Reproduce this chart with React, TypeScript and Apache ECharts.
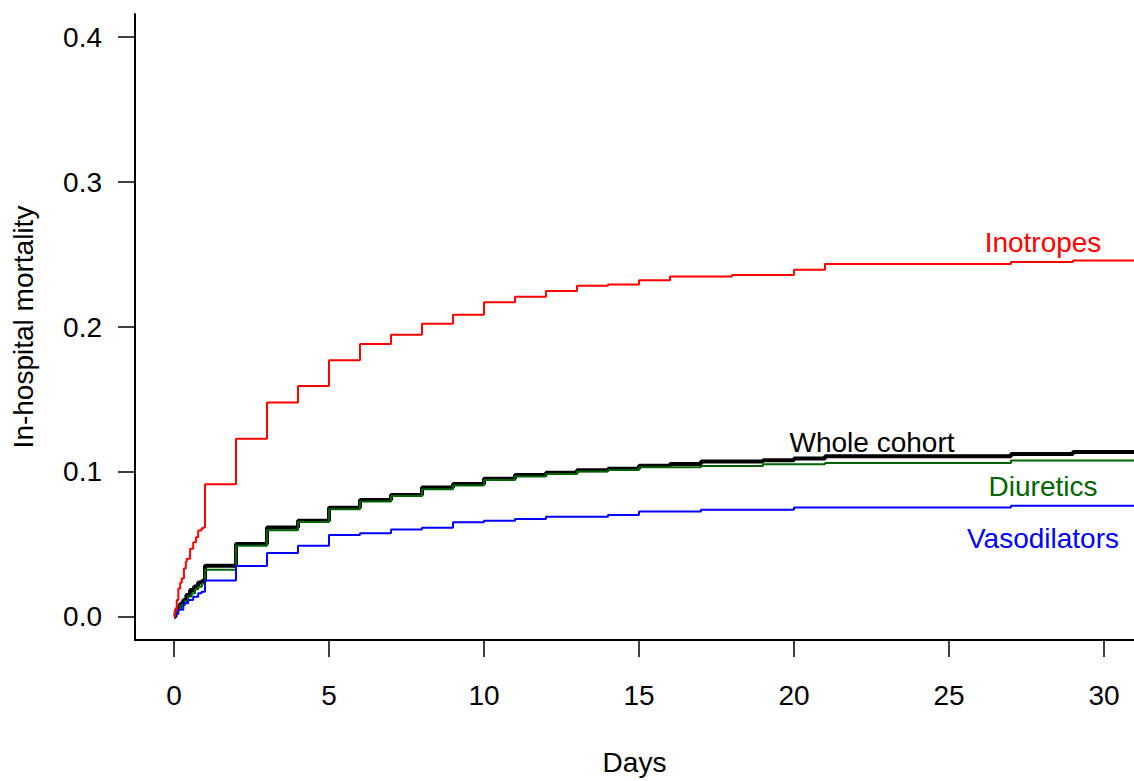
import React, { useEffect, useRef } from "react";
import * as echarts from "echarts";

// Tick values
const xTicks = [0, 5, 10, 15, 20, 25, 30];
const yTicks = [0, 0.1, 0.2, 0.3, 0.4];

// Series: [day, cumulative in-hospital mortality] (step functions)
const wholeCohort: [number, number][] = [
  [0, 0], [0.05, 0.003], [0.1, 0.006], [0.2, 0.009], [0.3, 0.0116], [0.4, 0.015],
  [0.52, 0.0185], [0.65, 0.021], [0.78, 0.0237], [0.9, 0.0248],
  [1, 0.0353], [2, 0.0502], [3, 0.0616], [4, 0.0663], [5, 0.0753], [6, 0.0806],
  [7, 0.0841], [8, 0.0892], [9, 0.0916], [10, 0.0952], [11, 0.0978], [12, 0.0994],
  [13, 0.1011], [14, 0.1022], [15, 0.1043], [16, 0.1055], [17, 0.1071], [19, 0.108],
  [20, 0.1092], [21, 0.1108], [27, 0.1124], [29, 0.1137], [31, 0.1137],
];

const diuretics: [number, number][] = [
  [0, 0], [0.05, 0.003], [0.1, 0.005], [0.2, 0.008], [0.35, 0.011], [0.45, 0.014],
  [0.57, 0.0162], [0.68, 0.019], [0.78, 0.0207], [0.9, 0.023],
  [1, 0.0325], [2, 0.049], [3, 0.0598], [4, 0.0654], [5, 0.0743], [6, 0.0795],
  [7, 0.0834], [8, 0.088], [9, 0.0907], [10, 0.0944], [11, 0.0968], [12, 0.0985],
  [13, 0.1002], [14, 0.1013], [15, 0.1033], [17, 0.104], [19, 0.1052], [21, 0.1062],
  [27, 0.1078], [31, 0.1078],
];

const vasodilators: [number, number][] = [
  [0, 0], [0.05, 0.002], [0.14, 0.0048], [0.3, 0.0094], [0.46, 0.0116], [0.62, 0.0139],
  [0.78, 0.0162], [0.89, 0.0173], [1, 0.025], [2, 0.0351], [3, 0.0441], [4, 0.0491],
  [5, 0.0565], [6, 0.0576], [7, 0.0602], [8, 0.0614], [9, 0.0652], [10, 0.0663],
  [11, 0.0675], [12, 0.0691], [14, 0.0702], [15, 0.0726], [17, 0.0738], [20, 0.0754],
  [27, 0.0766], [31, 0.0766],
];

const inotropes: [number, number][] = [
  [0, 0], [0.03, 0.0048], [0.09, 0.0116], [0.14, 0.0196], [0.2, 0.0235], [0.25, 0.0265],
  [0.32, 0.0333], [0.38, 0.038], [0.41, 0.0401], [0.52, 0.047], [0.62, 0.0515],
  [0.71, 0.0549], [0.78, 0.0595], [0.89, 0.0611], [0.95, 0.0617],
  [1, 0.0915], [2, 0.1229], [3, 0.1479], [4, 0.1593], [5, 0.1771], [6, 0.1883],
  [7, 0.1947], [8, 0.2022], [9, 0.2085], [10, 0.217], [11, 0.2209], [12, 0.2248],
  [13, 0.2284], [14, 0.2293], [15, 0.2323], [16, 0.2348], [18, 0.2359], [20, 0.2395],
  [21, 0.2434], [27, 0.2448], [29, 0.2459], [31, 0.2459],
];

const seriesNames = ["Whole cohort", "Diuretics", "Vasodilators", "Inotropes"];
const seriesColors = ["#000000", "#006400", "#0000FF", "#FF0000"];

const FONT = '"Liberation Sans", Arial, Helvetica, sans-serif';

export default function App() {
  const ref = useRef<HTMLDivElement>(null);

  useEffect(() => {
    if (!ref.current) return;
    const chart = echarts.init(ref.current, null, { renderer: "svg" });
    const datasets = [wholeCohort, diuretics, vasodilators, inotropes];
    const widths = [4, 2, 2, 2];

    chart.setOption({
      animation: false,
      backgroundColor: "#ffffff",
      grid: { left: 135, right: 0, top: 14, bottom: 135, containLabel: false },
      xAxis: {
        type: "value",
        min: -1.258,
        max: 30.968,
        name: "Days",
        nameLocation: "middle",
        nameGap: 108,
        nameTextStyle: { fontFamily: FONT, fontSize: 28, color: "#000" },
        axisLine: { show: true, onZero: false, lineStyle: { color: "#000", width: 2 } },
        axisTick: { show: true, length: 17, customValues: xTicks, lineStyle: { color: "#000", width: 1.5 } },
        axisLabel: {
          customValues: xTicks,
          margin: 41,
          fontFamily: FONT,
          fontSize: 28,
          color: "#000",
          formatter: (v: number) => String(v),
        },
        splitLine: { show: false },
      },
      yAxis: {
        type: "value",
        min: -0.016,
        max: 0.416,
        name: "In-hospital mortality",
        nameLocation: "middle",
        nameRotate: 90,
        nameGap: 98,
        nameTextStyle: { fontFamily: FONT, fontSize: 28, color: "#000" },
        axisLine: { show: true, onZero: false, lineStyle: { color: "#000", width: 2 } },
        axisTick: { show: true, length: 17, customValues: yTicks, lineStyle: { color: "#000", width: 1.5 } },
        axisLabel: {
          customValues: yTicks,
          margin: 33,
          padding: [12, 0, 0, 0],
          fontFamily: FONT,
          fontSize: 28,
          color: "#000",
          formatter: (v: number) => v.toFixed(1),
        },
        splitLine: { show: false },
      },
      series: datasets.map((d, i) => ({
        name: seriesNames[i],
        type: "line",
        step: "end",
        data: d,
        showSymbol: false,
        symbol: "none",
        clip: true,
        z: 2 + i,
        lineStyle: { color: seriesColors[i], width: widths[i] },
      })),
      graphic: [
        { type: "text", x: 1043, y: 242, style: { text: "Inotropes", fill: "#FF0000", fontFamily: FONT, fontSize: 28, align: "center", verticalAlign: "middle" } },
        { type: "text", x: 872, y: 442, style: { text: "Whole cohort", fill: "#000000", fontFamily: FONT, fontSize: 28, align: "center", verticalAlign: "middle" } },
        { type: "text", x: 1043, y: 486, style: { text: "Diuretics", fill: "#006400", fontFamily: FONT, fontSize: 28, align: "center", verticalAlign: "middle" } },
        { type: "text", x: 1043, y: 538, style: { text: "Vasodilators", fill: "#0000FF", fontFamily: FONT, fontSize: 28, align: "center", verticalAlign: "middle" } },
      ],
    });

    return () => chart.dispose();
  }, []);

  return (
    <div
      ref={ref}
      style={{ position: "fixed", left: 0, top: 0, width: 1134, height: 781, background: "#fff" }}
    />
  );
}
